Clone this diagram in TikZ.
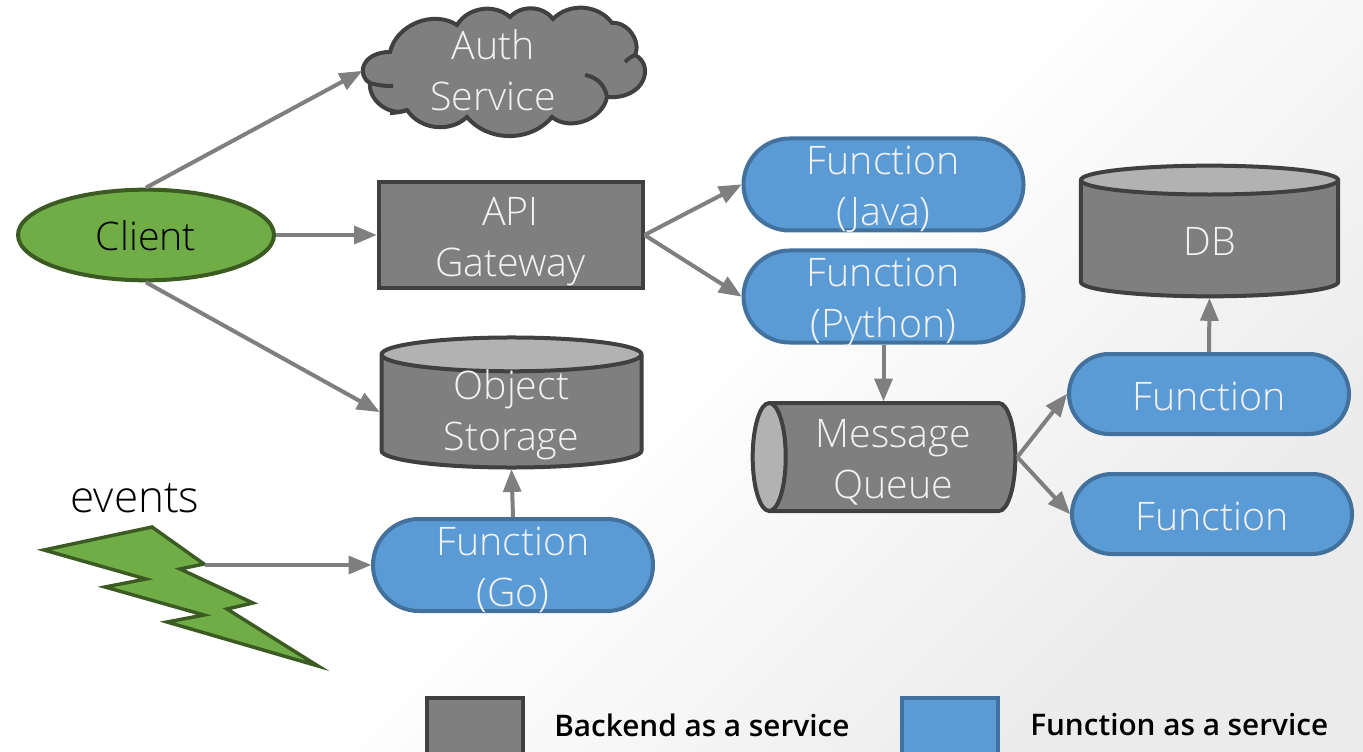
\documentclass[tikz,border=0pt]{standalone}
\usepackage{fontspec}
\setmainfont{Open Sans Light}
\newfontfamily\legendfont{Open Sans Semibold}
\usepackage{tikz}
\usetikzlibrary{calc, fit, shapes.geometric, shapes.misc, arrows}
\definecolor{baasfill}{HTML}{7F7F7F}
\definecolor{baasline}{HTML}{404040}
\definecolor{baasend}{HTML}{B2B2B2}
\definecolor{faasfill}{HTML}{5B9BD5}
\definecolor{faasline}{HTML}{41719C}
\definecolor{greenfill}{HTML}{70AD47}
\definecolor{greenline}{HTML}{3B5B23}
\tikzstyle{arrow}     = [line width=3pt,baasfill,-triangle 45]
\begin{document}
\begin{tikzpicture}[
    x=0.75pt,y=-0.75pt,
    bigtext/.style={font=\fontsize{29.5}{38.25}\selectfont,align=center,text=white!95!black},
    twoline/.style={text height=62pt,text depth=0pt},
    oneline/.style={text height=24pt,text depth=0pt},
    baas/.style={bigtext,draw=baasline,fill=baasfill,line width=3pt},
    faas/.style={bigtext,rounded rectangle,draw=faasline,fill=faasfill,line width=3pt,minimum width=210pt,minimum height=69pt,inner sep=0pt},
    dbcyl/.style={bigtext,draw=baasline,line width=3pt,cylinder,cylinder uses custom fill,cylinder body fill=baasfill,cylinder end fill=baasend,inner sep=0pt,anchor=shape center},
    swatch/.style={line width=3pt,minimum width=72pt,minimum height=44pt},
    legendtext/.style={font=\legendfont\fontsize{22.3}{26}\selectfont,text=black,anchor=west,inner sep=0pt},
  ]
  \useasboundingbox (0,0) rectangle (1363,752);
  \clip (0,0) rectangle (1363,752);
  \shade[shading=axis,bottom color=black!8,top color=white,middle color=white,shading angle=45] (0,0) rectangle (1363,752);

  \draw[baas] (390,52) to[bend left=55] (457,25) to[bend left=50] (510,17) to[bend left=50] (553,19)
    to[bend left=50] (612,23) to[bend left=60] (635,55) .. controls (655,65) and (645,100) .. (607,97) to[bend left=60] (552,117)
    to[bend left=50] (467,117) to[bend left=50] (407,110) to[bend left=60] (370,83) .. controls (356,75) and (362,52) .. (390,52) -- cycle;
  \draw[baasline,line width=3pt] (370,83) to[bend right=8] (393,86);
  \draw[baasline,line width=3pt] (407,110) to[bend left=8] (390,113);
  \draw[baasline,line width=3pt] (585,75) to[bend left=35] (607,97);
  \draw[baasline,line width=3pt] (625,62) to[bend left=10] (635,55);
  \node[bigtext,minimum width=211pt,minimum height=92pt,inner sep=0pt] (auth) at (503,71) {};
  \node[bigtext,twoline,inner sep=0pt] (authtext) at (493,69) {Auth\\Service};

  \node[draw=greenline,fill=greenfill,line width=3pt,ellipse,minimum width=192pt,minimum height=68pt,inner sep=0pt,oneline,
    font=\fontsize{29.5}{38.25}\selectfont] (client) at (146,235) {Client};
  \node[baas,twoline,minimum width=198pt,minimum height=79pt,inner sep=0pt] (gateway) at (510.5,235) {API\\Gateway};
  \node[dbcyl,text height=58pt,text depth=0pt,shape border rotate=90,minimum width=195pt,minimum height=92pt,aspect=0.25] (storage) at (511.5,402.5) {Object\\Storage};
  \node[dbcyl,oneline,shape border rotate=90,minimum width=193pt,minimum height=98pt,aspect=0.55] (db) at (1209.5,231) {DB};
  \node[dbcyl,twoline,shape border rotate=180,minimum width=81pt,minimum height=197pt,aspect=0.4] (queue) at (884,457) {Message\\Queue};

  \node[faas,twoline] (java) at (883.5,184.5) {Function\\(Java)};
  \node[faas,twoline] (python) at (883.5,296.5) {Function\\(Python)};
  \node[faas,twoline] (goal) at (513,565) {Function\\(Go)};
  \node[faas,oneline,minimum height=60pt] (upper) at (1209,394) {Function};
  \node[faas,oneline,minimum height=60pt] (lower) at (1212,514) {Function};

  \draw[draw=greenline,fill=greenfill,line width=2.6pt,miter limit=10] (44,550) -- (152,527) -- (204,564) -- (180,569) -- (253,603)
    -- (227,609) -- (318,666) -- (167,622) -- (204,615) -- (105,587) -- (146,579) -- cycle;
  \coordinate (bolt) at (205,565);
  \node[font=\fontsize{33}{38.25}\selectfont] (events) at (135,498) {events};

  \draw[arrow] (client.north) -- (auth.west);
  \draw[arrow] (client.east) -- (gateway.west);
  \draw[arrow] (client.south) -- (storage.west);
  \draw[arrow] (gateway.east) -- (java.west);
  \draw[arrow] (gateway.east) -- (python.west);
  \draw[arrow] (python.south) -- (python.south |- queue.north);
  \draw[arrow] (queue.bottom) -- (upper.west);
  \draw[arrow] (queue.bottom) -- (lower.west);
  \draw[arrow] (upper.north) -- (db.bottom);
  \draw[arrow] (goal.north) -- (storage.bottom);
  \draw[arrow] (bolt) -- (goal.west);

  \node[swatch,draw=baasline,fill=baasfill] (backendbox) at (475,727) {};
  \node[swatch,draw=faasline,fill=faasfill] (functionbox) at (950,727) {};
  \node[legendtext] (backendtext) at (554,725) {Backend as a service};
  \node[legendtext] (functiontext) at (1030,725) {Function as a service};
\end{tikzpicture}
\end{document}
